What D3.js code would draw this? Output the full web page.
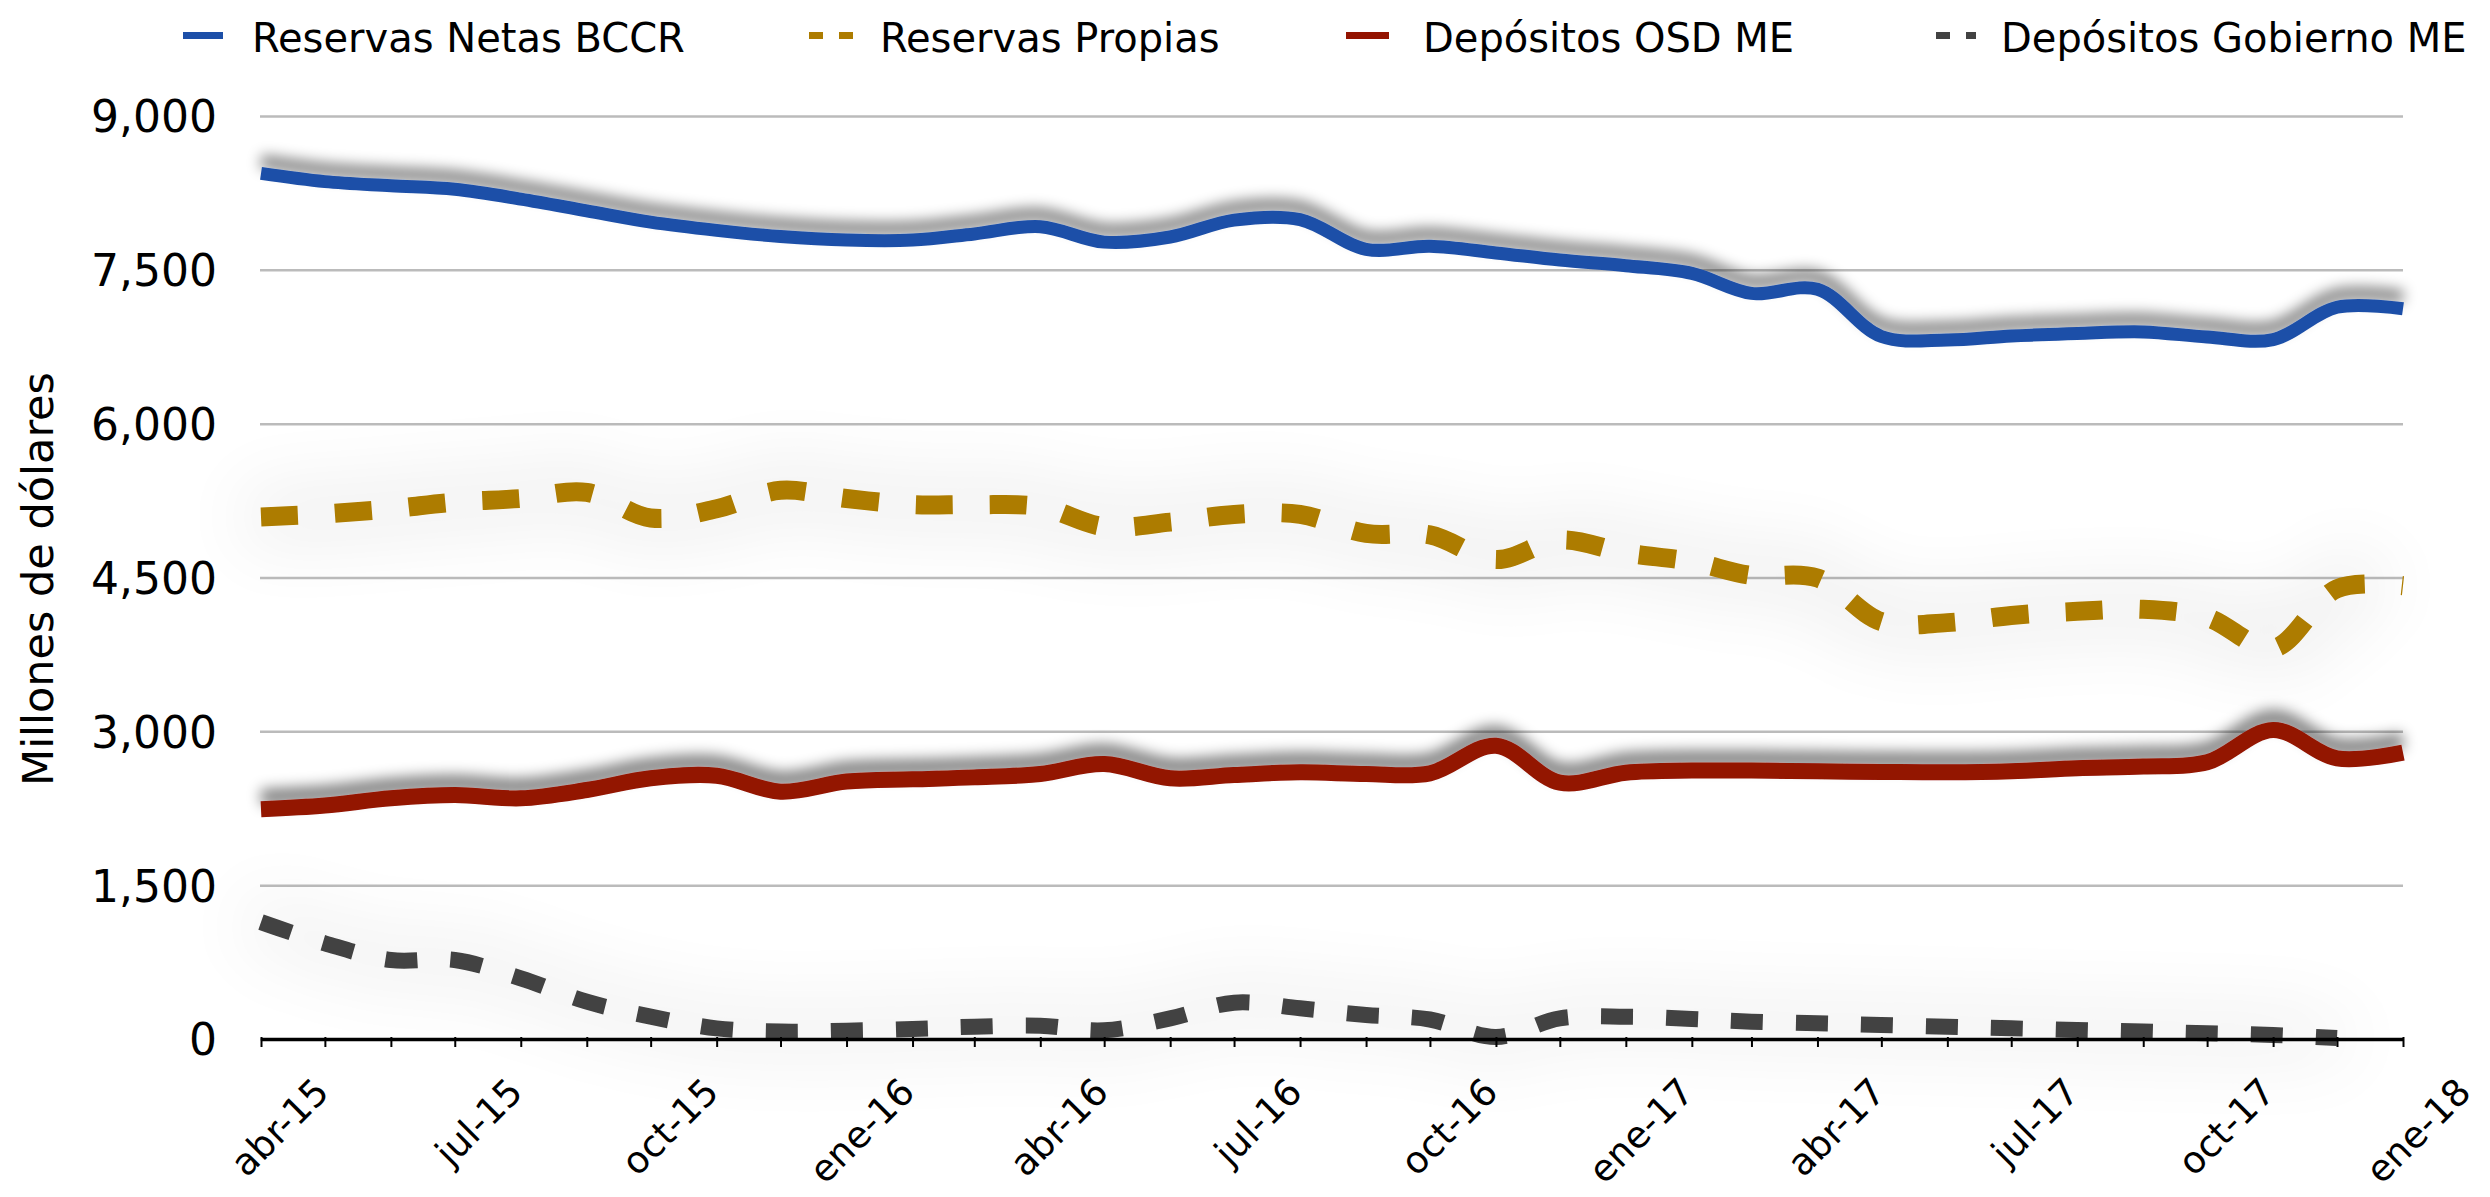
<!DOCTYPE html>
<html>
<head>
<meta charset="utf-8">
<script src="https://cdn.jsdelivr.net/npm/d3@7"></script>
<style>
  body { margin: 0; background: #fff; }
  svg { display: block; font-family: "DejaVu Sans", Verdana, sans-serif; }
</style>
</head>
<body>
<div id="chart"></div>
<script>
// monthly observations, abr-15 .. ene-18
const months = [
  "2015-04","2015-05","2015-06","2015-07","2015-08","2015-09","2015-10","2015-11","2015-12",
  "2016-01","2016-02","2016-03","2016-04","2016-05","2016-06","2016-07","2016-08","2016-09","2016-10","2016-11","2016-12",
  "2017-01","2017-02","2017-03","2017-04","2017-05","2017-06","2017-07","2017-08","2017-09","2017-10","2017-11","2017-12",
  "2018-01"
];

const reservasNetas = [
  8440, 8360, 8320, 8285, 8190, 8075, 7965, 7885, 7825,
  7790, 7790, 7850, 7920, 7770, 7820, 7985, 7990, 7700, 7730, 7665, 7595,
  7540, 7465, 7270, 7310, 6850, 6815, 6855, 6880, 6895, 6845, 6820, 7135,
  7120
];

const reservasPropias = [
  5090, 5120, 5170, 5235, 5270, 5330, 5080, 5170, 5350,
  5270, 5210, 5210, 5190, 4995, 5040, 5115, 5115, 4930, 4915, 4675, 4865,
  4740, 4655, 4520, 4495, 4070, 4060, 4130, 4170, 4190, 4110, 3810, 4390,
  4420
];

const depositosOSD = [
  2240, 2277, 2347, 2379, 2347, 2428, 2542, 2567, 2412,
  2510, 2532, 2551, 2584, 2681, 2542, 2574, 2600, 2584, 2590, 2860, 2499,
  2597, 2617, 2617, 2610, 2604, 2600, 2610, 2640, 2656, 2698, 3013, 2737,
  2792
];

const depositosGobierno = [
  1140, 933, 770, 770, 592, 364, 218, 104, 72,
  81, 98, 120, 129, 85, 201, 354, 299, 234, 190, 20, 201,
  218, 195, 169, 153, 137, 120, 104, 88, 72, 55, 39, 10
];

const seriesNames = ["Reservas Netas BCCR", "Reservas Propias", "Depósitos OSD ME", "Depósitos Gobierno ME"];
const yTicks = [0, 1500, 3000, 4500, 6000, 7500, 9000];
const xLabelMonths = ["2015-04","2015-07","2015-10","2016-01","2016-04","2016-07","2016-10","2017-01","2017-04","2017-07","2017-10","2018-01"];
const xLabels = ["abr-15","jul-15","oct-15","ene-16","abr-16","jul-16","oct-16","ene-17","abr-17","jul-17","oct-17","ene-18"];

const width = 2490, height = 1197;
const plot = {left: 261, right: 2403, top: 116, bottom: 1039};
const parse = d3.timeParse("%Y-%m");

const x = d3.scaleTime()
    .domain([parse(months[0]), parse(months[months.length - 1])])
    .range([plot.left, plot.right]);
const y = d3.scaleLinear()
    .domain([0, 9000])
    .range([plot.bottom, plot.top]);

const svg = d3.select("#chart").append("svg")
    .attr("width", width)
    .attr("height", height);

const defs = svg.append("defs");

// shadow pushed upward, like the source chart
const shadowUp = defs.append("filter")
    .attr("id", "shadowUp")
    .attr("filterUnits", "userSpaceOnUse")
    .attr("x", 0).attr("y", 0).attr("width", width).attr("height", height);
shadowUp.append("feOffset").attr("in", "SourceAlpha").attr("dx", 0).attr("dy", -12).attr("result", "off");
shadowUp.append("feGaussianBlur").attr("in", "off").attr("stdDeviation", 7).attr("result", "blur");
shadowUp.append("feComponentTransfer").attr("in", "blur").attr("result", "soft")
    .append("feFuncA").attr("type", "linear").attr("slope", 0.5);
const m1 = shadowUp.append("feMerge");
m1.append("feMergeNode").attr("in", "soft");
m1.append("feMergeNode").attr("in", "SourceGraphic");

// wide faint haze for the dashed series
const haze = defs.append("filter")
    .attr("id", "haze")
    .attr("filterUnits", "userSpaceOnUse")
    .attr("x", 0).attr("y", 0).attr("width", width).attr("height", height);
haze.append("feGaussianBlur").attr("in", "SourceAlpha").attr("stdDeviation", 40).attr("result", "blur");
haze.append("feComponentTransfer").attr("in", "blur").attr("result", "soft")
    .append("feFuncA").attr("type", "linear").attr("slope", 0.4);
const m2 = haze.append("feMerge");
m2.append("feMergeNode").attr("in", "soft");
m2.append("feMergeNode").attr("in", "SourceGraphic");

// gridlines + y labels
const yAxis = svg.append("g")
    .attr("transform", `translate(${plot.left - 1},0)`)
    .call(d3.axisLeft(y)
        .tickValues(yTicks)
        .tickFormat(d3.format(","))
        .tickSize(-(plot.right - plot.left + 1))
        .tickPadding(43));
yAxis.select(".domain").remove();
yAxis.selectAll(".tick line")
    .attr("stroke", "#bbbbbb")
    .attr("stroke-width", 2.5);
yAxis.selectAll(".tick text")
    .attr("font-family", "DejaVu Sans")
    .attr("font-size", 44)
    .attr("fill", "#000")
    .attr("dy", "0.36em");

// axis title
svg.append("text")
    .attr("transform", "translate(53,579) rotate(-90)")
    .attr("text-anchor", "middle")
    .attr("font-size", 43)
    .text("Millones de dólares");

// series
const series = [
    {name: seriesNames[0], values: reservasNetas, color: "#1d4fa8", width: 13, dash: null, filter: "url(#shadowUp)"},
    {name: seriesNames[1], values: reservasPropias, color: "#ad7c00", width: 19, dash: "37,37", filter: "url(#haze)"},
    {name: seriesNames[2], values: depositosOSD, color: "#931300", width: 16, dash: null, filter: "url(#shadowUp)"},
    {name: seriesNames[3], values: depositosGobierno, color: "#424242", width: 16, dash: "32,33", filter: "url(#haze)"}
];

const line = d3.line()
    .x((d, i) => x(parse(months[i])))
    .y(d => y(d))
    .curve(d3.curveCatmullRom.alpha(0.5));

svg.append("g")
    .selectAll("path")
    .data(series)
    .join("path")
        .attr("d", d => line(d.values))
        .attr("fill", "none")
        .attr("stroke", d => d.color)
        .attr("stroke-width", d => d.width)
        .attr("stroke-dasharray", d => d.dash)
        .attr("stroke-linejoin", "round")
        .attr("filter", d => d.filter);

// x axis at zero
const xAxis = svg.append("g")
    .attr("transform", `translate(0,${plot.bottom})`)
    .call(d3.axisBottom(x)
        .ticks(d3.timeMonth.every(1))
        .tickFormat("")
        .tickSize(8)
        .tickSizeOuter(0));
xAxis.select(".domain")
    .attr("stroke", "#000")
    .attr("stroke-width", 3.5);
xAxis.selectAll(".tick line")
    .attr("stroke", "#000")
    .attr("stroke-width", 2)
    .attr("y1", -2);

svg.append("g")
    .selectAll("text")
    .data(xLabelMonths)
    .join("text")
        .attr("transform", d => `translate(${x(parse(d)) + 70},${plot.bottom + 55}) rotate(-45)`)
        .attr("text-anchor", "end")
        .attr("font-size", 37)
        .text((d, i) => xLabels[i]);

// legend
const legendPos = [
    {x1: 183, x2: 223, tx: 252},
    {x1: 809, x2: 853, tx: 880},
    {x1: 1346, x2: 1389, tx: 1423},
    {x1: 1936, x2: 1976, tx: 2001}
];
const legend = svg.append("g")
    .selectAll("g")
    .data(series)
    .join("g");
legend.append("line")
    .attr("x1", (d, i) => legendPos[i].x1)
    .attr("x2", (d, i) => legendPos[i].x2)
    .attr("y1", 35.5)
    .attr("y2", 35.5)
    .attr("stroke", d => d.color)
    .attr("stroke-width", 7)
    .attr("stroke-dasharray", d => d.dash ? "14,16" : null);
legend.append("text")
    .attr("x", (d, i) => legendPos[i].tx)
    .attr("y", 52)
    .attr("font-size", 40)
    .text(d => d.name);
</script>
</body>
</html>
